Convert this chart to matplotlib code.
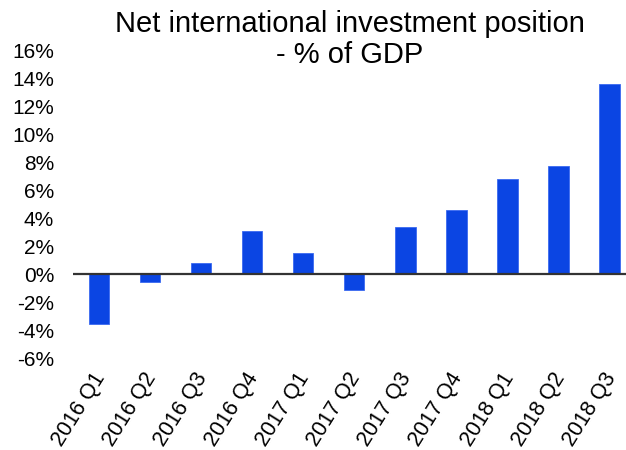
import matplotlib.pyplot as plt
import matplotlib.transforms as mtransforms
from matplotlib.ticker import FuncFormatter

plt.rcParams['font.family'] = ['Liberation Sans', 'DejaVu Sans']

quarters = ['2016 Q1', '2016 Q2', '2016 Q3', '2016 Q4',
            '2017 Q1', '2017 Q2', '2017 Q3', '2017 Q4',
            '2018 Q1', '2018 Q2', '2018 Q3']
niip_pct_gdp = [-3.55, -0.57, 0.76, 3.09, 1.48, -1.14, 3.36, 4.59, 6.76, 7.76, 13.59]
y_ticks = list(range(-6, 17, 2))

fig = plt.figure(figsize=(6.26, 4.5), dpi=100)
# axes runs a little past the right edge, like the original export
ax = fig.add_axes([0.1174, 0.2044, 0.897, 0.684])

x = range(len(quarters))
ax.bar(x, niip_pct_gdp, width=0.4, color='#0B45E3', edgecolor='#3B6AF0', linewidth=0.6, zorder=2)
ax.axhline(0, color='#333333', linewidth=1.6, zorder=3)

ax.set_xlim(-0.5, len(quarters) - 0.5)
ax.set_ylim(-6, 16)
ax.set_yticks(y_ticks)
ax.yaxis.set_major_formatter(FuncFormatter(lambda v, p: f'{v:.0f}%'))
ax.set_xticks(list(x))
ax.set_xticklabels(quarters, rotation=58, ha='right', va='top', rotation_mode='anchor')

ax.tick_params(axis='both', length=0, labelsize=15)
ax.tick_params(axis='x', labelsize=15.5, pad=8)
ax.tick_params(axis='y', pad=14)
for s in ax.spines.values():
    s.set_visible(False)

# nudge the slanted labels a bit to the left
shift = mtransforms.ScaledTranslation(-5 / 72, 0, fig.dpi_scale_trans)
for lbl in ax.get_xticklabels():
    lbl.set_transform(lbl.get_transform() + shift)

# title sits partly over the top of the plot area
fig.text(350 / 626, 1 - 10 / 450, 'Net international investment position\n- % of GDP',
         ha='center', va='top', fontsize=21, linespacing=1.12)

fig.savefig('out.png', dpi=100)
